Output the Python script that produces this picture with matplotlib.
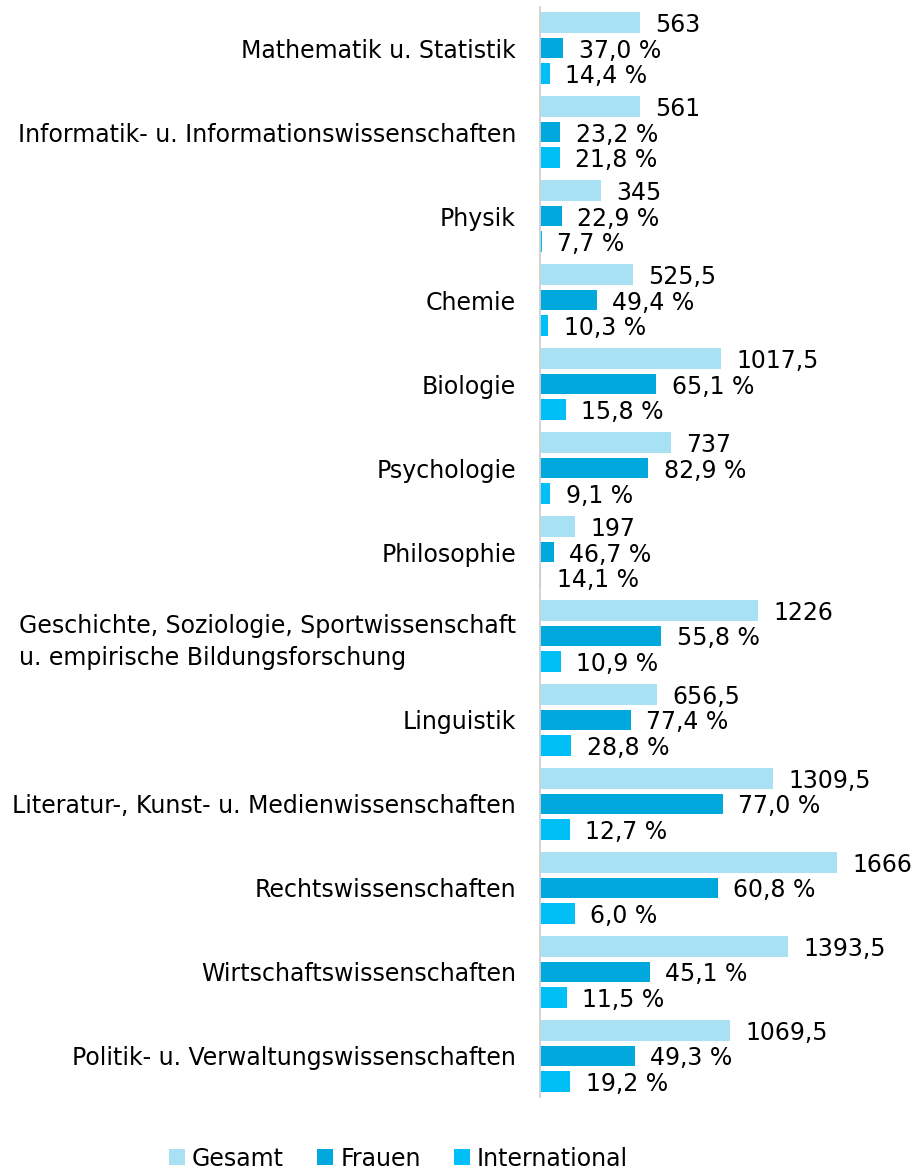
import matplotlib
matplotlib.use( 'Agg' )
from matplotlib import pyplot as plt
import numpy as np

faecher = [ 'Mathematik u. Statistik' ,
	'Informatik- u. Informationswissenschaften' ,
	'Physik' ,
	'Chemie' ,
	'Biologie' ,
	'Psychologie' ,
	'Philosophie' ,
	'Geschichte, Soziologie, Sportwissenschaft\nu. empirische Bildungsforschung' ,
	'Linguistik' ,
	'Literatur-, Kunst- u. Medienwissenschaften' ,
	'Rechtswissenschaften' ,
	'Wirtschaftswissenschaften' ,
	'Politik- u. Verwaltungswissenschaften' ]

# Gesamt (label and bar)
gesamt = [ 563 , 561 , 345 , 525.5 , 1017.5 , 737 , 197 , 1226 , 656.5 , 1309.5 , 1666 , 1393.5 , 1069.5 ]
# bar lengths
frauen = [ 134 , 116 , 127 , 321 , 654 , 610 , 80 , 683 , 511 , 1026 , 1001 , 618 , 536 ]
international = [ 56 , 112 , 15 , 49 , 146 , 60 , 11 , 118 , 179 , 170 , 198 , 153 , 172 ]
# printed labels
frauen_pct = [ 37.0 , 23.2 , 22.9 , 49.4 , 65.1 , 82.9 , 46.7 , 55.8 , 77.4 , 77.0 , 60.8 , 45.1 , 49.3 ]
international_pct = [ 14.4 , 21.8 , 7.7 , 10.3 , 15.8 , 9.1 , 14.1 , 10.9 , 28.8 , 12.7 , 6.0 , 11.5 , 19.2 ]

gesamt_color = '#A8E1F4'
frauen_color = '#00A8DE'
international_color = '#00BEF6'

fs = 17
plt.rcParams[ 'font.family' ] = [ 'DejaVu Sans' ]

def fmt_gesamt( v ) :
	if v == int( v ) :
		return '%d' % v
	return ( '%.1f' % v ).replace( '.' , ',' )

def fmt_pct( v ) :
	return ( '%.1f %%' % v ).replace( '.' , ',' )

fig = plt.figure( figsize = ( 9.24 , 11.71 ) , dpi = 100 )
ax = fig.add_axes( [ 0.5839 , 0.0632 , 0.99 - 0.5839 , 0.9308 ] )

y = np.arange( len( faecher ) )
d = 0.305
h = 0.245

b1 = ax.barh( y - d , gesamt , height = h , color = gesamt_color , label = 'Gesamt' )
b2 = ax.barh( y , frauen , height = h , color = frauen_color , label = 'Frauen' )
b3 = ax.barh( y + d , international , height = h , color = international_color , label = 'International' )

for i in range( len( faecher ) ) :
	ax.annotate( fmt_gesamt( gesamt[ i ] ) , xy = ( gesamt[ i ] , y[ i ] - d ) , xytext = ( 11 , 0 ) , textcoords = 'offset points' , va = 'center_baseline' , ha = 'left' , fontsize = fs )
	ax.annotate( fmt_pct( frauen_pct[ i ] ) , xy = ( frauen[ i ] , y[ i ] ) , xytext = ( 11 , 0 ) , textcoords = 'offset points' , va = 'center_baseline' , ha = 'left' , fontsize = fs )
	ax.annotate( fmt_pct( international_pct[ i ] ) , xy = ( international[ i ] , y[ i ] + d ) , xytext = ( 11 , 0 ) , textcoords = 'offset points' , va = 'center_baseline' , ha = 'left' , fontsize = fs )

ax.set_xlim( 0 , 2102 )
ax.set_ylim( len( faecher ) - 0.51 , -0.49 )
ax.set_yticks( y )
ax.set_yticklabels( faecher , fontsize = fs , linespacing = 1.42 )
for lab in ax.get_yticklabels() :
	lab.set_multialignment( 'left' )
ax.tick_params( axis = 'y' , length = 0 , pad = 17 )
ax.set_xticks( [] )

for s in [ 'top' , 'right' , 'bottom' ] :
	ax.spines[ s ].set_visible( False )
ax.spines[ 'left' ].set_color( '#D0D0D0' )
ax.spines[ 'left' ].set_linewidth( 1.3 )

fig.legend( handles = [ b1 , b2 , b3 ] , loc = 'center' , bbox_to_anchor = ( 398.5 / 924 , 1 - 1158.5 / 1171 ) , ncol = 3 , frameon = False , fontsize = fs ,
	handlelength = 0.68 , handleheight = 0.68 , handletextpad = 0.3 , columnspacing = 1.4 )

fig.savefig( 'out.png' , dpi = 100 )
